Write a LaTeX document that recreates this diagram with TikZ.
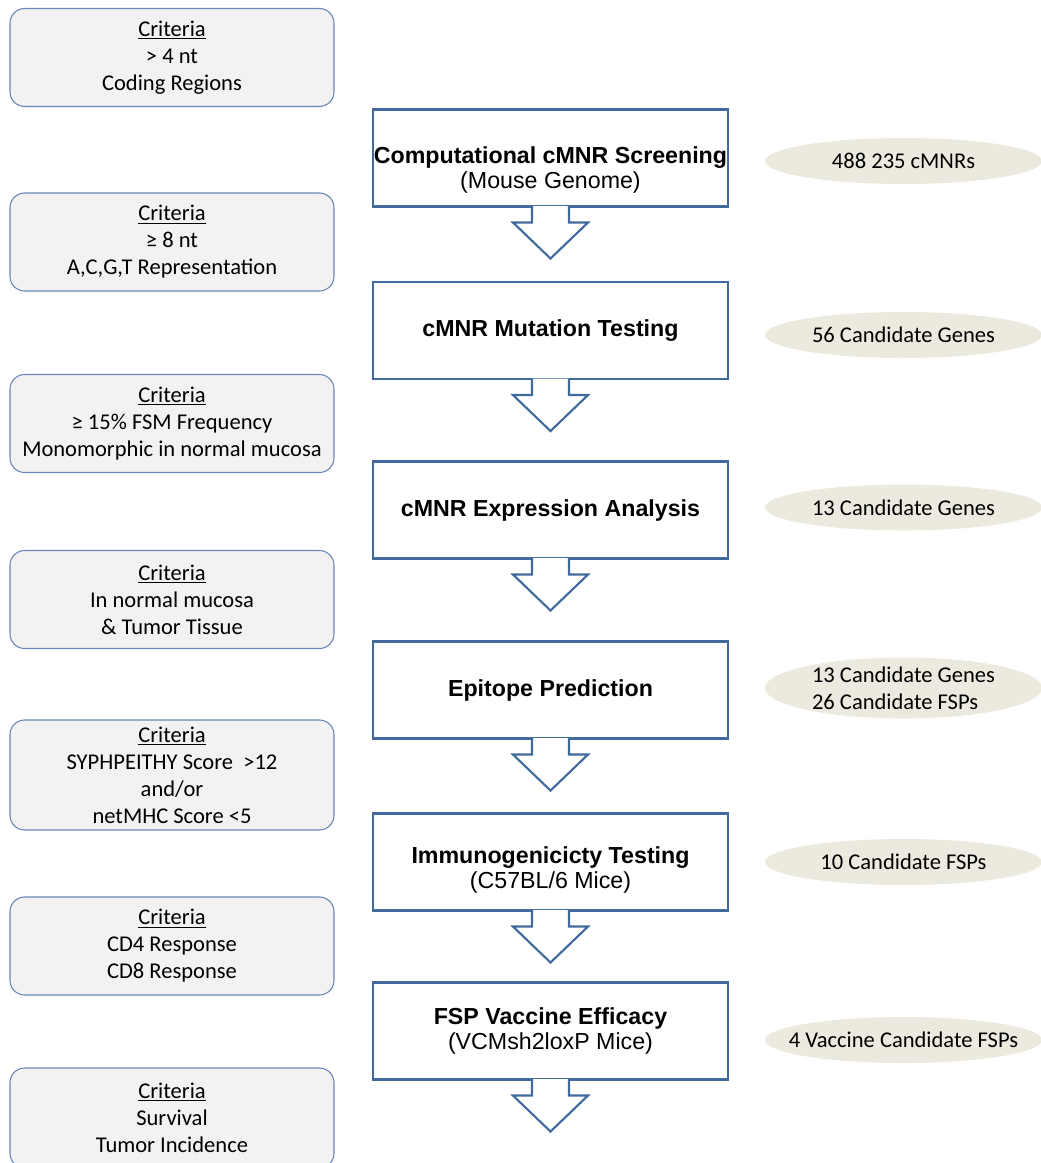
\documentclass[tikz,border=0pt]{standalone}
\usepackage{fontspec}
\usepackage{xcolor}
\setmainfont{Carlito}
\newfontfamily\arialfont{Liberation Sans}
\usetikzlibrary{shapes.geometric}

\definecolor{critline}{RGB}{104,134,184}
\definecolor{critfill}{RGB}{242,242,242}
\definecolor{stageline}{RGB}{65,107,156}
\definecolor{ovalfill}{RGB}{236,234,223}
\newcommand{\crithead}{\underline{Criteria}}

\begin{document}
\begin{tikzpicture}[x=0.75pt,y=-0.75pt,
    every node/.style = {align=center, inner sep=0pt},
    critbox/.style = {draw=critline, line width=0.8pt, fill=critfill,
      rounded corners=11pt, minimum width=243pt, minimum height=73.5pt,
      font=\fontsize{16.9}{20.25}\selectfont},
    stagebox/.style = {draw=stageline, line width=1.6pt, fill=white,
      minimum width=266.25pt, minimum height=72.75pt,
      font=\arialfont\fontsize{17.4}{18.75}\selectfont},
    countoval/.style = {ellipse, fill=ovalfill, minimum width=207.75pt,
      minimum height=34.5pt},
    countlabel/.style = {font=\fontsize{16.9}{20.25}\selectfont, align=left},
    flowarrow/.style = {draw=stageline, line width=1.6pt, fill=white,
      line join=miter}]
  \useasboundingbox[fill=white] (0,0) rectangle (1040,1163);

  \node[critbox] (c1) at (172,57.5) {\crithead\\> 4 nt\\Coding Regions};
  \node[critbox] (c2) at (172,242) {\crithead\\≥ 8 nt\\A,C,G,T Representation};
  \node[critbox] (c3) at (172,423.5) {\crithead\\≥ 15\% FSM Frequency\\Monomorphic in normal mucosa};
  \node[critbox] (c4) at (172,599.5) {\crithead\\In normal mucosa\\\& Tumor Tissue};
  \node[critbox, minimum height=82.5pt] (c5) at (172,775) {\crithead\\SYPHPEITHY Score~ >12\\and/or\\netMHC Score <5};
  \node[critbox] (c6) at (172,946) {\crithead\\CD4 Response\\CD8 Response};
  \node[critbox, minimum height=75pt] (c7) at (172,1118) {\crithead\\Survival\\Tumor Incidence};

  \node[stagebox, text height=50pt] (scr) at (550.5,158) {\textbf{Computational cMNR Screening}\\(Mouse Genome)};
  \node[stagebox] (mut) at (550.5,330.5) {\textbf{cMNR Mutation Testing}};
  \node[stagebox] (expr) at (550.5,510) {\textbf{cMNR Expression Analysis}};
  \node[stagebox] (epi) at (550.5,690) {\textbf{Epitope Prediction}};
  \node[stagebox, text height=43pt] (imm) at (550.5,862) {\textbf{Immunogenicicty Testing}\\(C57BL/6 Mice)};
  \node[stagebox] (vac) at (550.5,1031) {\textbf{FSP Vaccine Efficacy}\\(VCMsh2loxP Mice)};

  \foreach \s in {scr,mut,expr,epi,imm,vac}
    \draw[flowarrow] ([xshift=-13.875pt,yshift=1pt]\s.south) -- ++(0,16.3)
      -- ++(-19,0) -- ++(37.5,36) -- ++(37.5,-36) -- ++(-19,0) -- ++(0,-16.3);

  \node[countoval, label={[countlabel]center:488 235 cMNRs}] (n1) at (903.5,161) {};
  \node[countoval, label={[countlabel]center:56 Candidate Genes}] (n2) at (903.5,335) {};
  \node[countoval, label={[countlabel]center:13 Candidate Genes}] (n3) at (903.5,507.5) {};
  \node[countoval, minimum height=45.75pt,
    label={[countlabel]center:13 Candidate Genes\\26 Candidate FSPs}] (n4) at (903.5,688) {};
  \node[countoval, label={[countlabel]center:10 Candidate FSPs}] (n5) at (903.5,862) {};
  \node[countoval, label={[countlabel]center:4 Vaccine Candidate FSPs}] (n6) at (903.5,1040) {};
\end{tikzpicture}
\end{document}
